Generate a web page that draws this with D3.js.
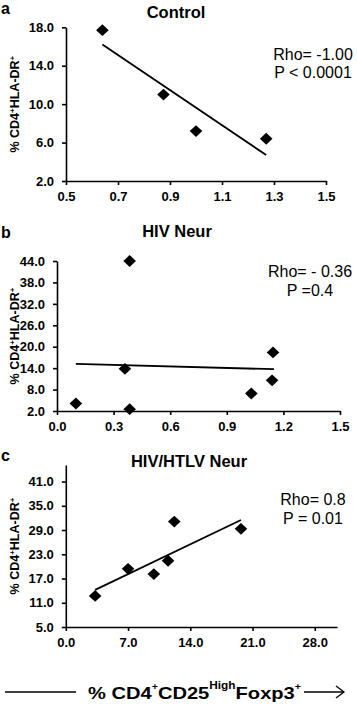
<!DOCTYPE html>
<html>
<head>
<meta charset="utf-8">
<script src="https://cdn.jsdelivr.net/npm/d3@7"></script>
<style>
  html, body { margin: 0; padding: 0; background: #fff; }
  svg { display: block; font-family: "Liberation Sans", Arial, sans-serif; }
</style>
</head>
<body>
<svg id="chart" width="357" height="706"></svg>
<script>
// ---- Data ----
const panelLetters = ["a", "b", "c"];
const panelTitles = ["Control", "HIV Neur", "HIV/HTLV Neur"];
const rhoLabels = ["Rho= -1.00", "Rho= - 0.36", "Rho= 0.8"];
const pLabels = ["P < 0.0001", "P =0.4", "P = 0.01"];

// Panel a: Control
const aX = [0.64, 0.875, 1.0, 1.27];
const aY = [17.7, 11.0, 7.2, 6.4];
const aFitX = [0.64, 1.27];
const aFitY = [16.2, 4.7];
const aXTicks = [0.5, 0.7, 0.9, 1.1, 1.3, 1.5];
const aYTicks = [2.0, 6.0, 10.0, 14.0, 18.0];

// Panel b: HIV Neur
const bX = [0.1, 0.36, 0.385, 0.385, 1.03, 1.14, 1.145];
const bY = [4.1, 13.8, 44.0, 2.5, 6.9, 10.6, 18.4];
const bFitX = [0.1, 1.15];
const bFitY = [15.2, 13.7];
const bXTicks = [0.0, 0.3, 0.6, 0.9, 1.2, 1.5];
const bYTicks = [2.0, 8.0, 14.0, 20.0, 26.0, 32.0, 38.0, 44.0];

// Panel c: HIV/HTLV Neur
const cX = [3.3, 7.0, 9.9, 11.5, 12.2, 19.7];
const cY = [12.7, 19.4, 18.1, 21.4, 31.1, 29.3];
const cFitX = [3.3, 19.7];
const cFitY = [14.2, 31.5];
const cXTicks = [0.0, 7.0, 14.0, 21.0, 28.0];
const cYTicks = [5.0, 11.0, 17.0, 23.0, 29.0, 35.0, 41.0];

// ---- Layout ----
const panels = [
  { xs: aX, ys: aY, fx: aFitX, fy: aFitY, xt: aXTicks, yt: aYTicks,
    xDom: [0.5, 1.5], yDom: [2, 18], xR: [66, 326], yR: [181, 27.3],
    letterY: 14, titleX: 176, titleY: 18, statY: [60, 78], statX: 313 },
  { xs: bX, ys: bY, fx: bFitX, fy: bFitY, xt: bXTicks, yt: bYTicks,
    xDom: [0, 1.5], yDom: [2, 44], xR: [57, 340], yR: [411, 261],
    letterY: 238, titleX: 177, titleY: 237, statY: [277, 296], statX: 310 },
  { xs: cX, ys: cY, fx: cFitX, fy: cFitY, xt: cXTicks, yt: cYTicks,
    xDom: [0, 30.5], yDom: [5, 45.1], xR: [65.8, 337], yR: [627, 465],
    letterY: 461, titleX: 189, titleY: 467, statY: [505, 524], statX: 313 }
];

const svg = d3.select("#chart");

panels.forEach((p, i) => {
  const g = svg.append("g");
  const x = d3.scaleLinear().domain(p.xDom).range(p.xR);
  const y = d3.scaleLinear().domain(p.yDom).range(p.yR);

  const yAxis = d3.axisLeft(y).tickValues(p.yt).tickFormat(d3.format(".1f"))
    .tickSize(4).tickSizeOuter(0).tickPadding(8);
  const ga = g.append("g").attr("transform", `translate(${p.xR[0]},0)`).call(yAxis);
  const xAxis = d3.axisBottom(x).tickValues(p.xt).tickFormat(d3.format(".1f"))
    .tickSize(4).tickSizeOuter(0).tickPadding(7);
  const gb = g.append("g").attr("transform", `translate(0,${p.yR[0]})`).call(xAxis);
  [ga, gb].forEach(a => {
    a.selectAll("path.domain").attr("stroke", "#000").attr("stroke-width", 1.6);
    a.selectAll(".tick line").attr("stroke", "#000").attr("stroke-width", 1.6);
    a.selectAll(".tick text").attr("fill", "#000")
      .style("font-size", "13px").style("font-weight", "bold");
  });

  g.append("line")
    .attr("x1", x(p.fx[0])).attr("y1", y(p.fy[0]))
    .attr("x2", x(p.fx[1])).attr("y2", y(p.fy[1]))
    .attr("stroke", "#000").attr("stroke-width", 1.8);

  const pts = p.xs.map((v, k) => [v, p.ys[k]]);
  const hw = 6.3, hh = 5.9;
  g.selectAll("path.pt").data(pts).enter().append("path")
    .attr("class", "pt")
    .attr("d", d => {
      const cx = x(d[0]), cy = y(d[1]);
      return `M${cx},${cy - hh}L${cx + hw},${cy}L${cx},${cy + hh}L${cx - hw},${cy}Z`;
    })
    .attr("fill", "#000");

  g.append("text").attr("x", 1).attr("y", p.letterY)
    .style("font-size", "16px").style("font-weight", "bold").text(panelLetters[i]);
  g.append("text").attr("x", p.titleX).attr("y", p.titleY)
    .attr("text-anchor", "middle")
    .style("font-size", "16.5px").style("font-weight", "bold").text(panelTitles[i]);
  g.append("text").attr("x", p.statX).attr("y", p.statY[0]).attr("text-anchor", "middle")
    .style("font-size", "16px").text(rhoLabels[i]);
  g.append("text").attr("x", p.statX).attr("y", p.statY[1]).attr("text-anchor", "middle")
    .style("font-size", "16px").text(pLabels[i]);

  const cy = (p.yR[0] + p.yR[1]) / 2;
  const yl = g.append("text")
    .attr("transform", `translate(19,${cy}) rotate(-90)`)
    .attr("text-anchor", "middle")
    .style("font-size", "12.5px").style("font-weight", "bold");
  yl.append("tspan").text("% CD4");
  yl.append("tspan").attr("dy", -4).style("font-size", "8px").text("+");
  yl.append("tspan").attr("dy", 4).text("HLA-DR");
  yl.append("tspan").attr("dy", -4).style("font-size", "8px").text("+");
});

// bottom common x label with arrow
const by = 692;
svg.append("line").attr("x1", 5).attr("x2", 76).attr("y1", by).attr("y2", by)
  .attr("stroke", "#000").attr("stroke-width", 1.3);
svg.append("line").attr("x1", 304).attr("x2", 344).attr("y1", by).attr("y2", by)
  .attr("stroke", "#000").attr("stroke-width", 1.3);
svg.append("path").attr("d", `M336,${by - 6}L344,${by}L336,${by + 6}`)
  .attr("fill", "none").attr("stroke", "#000").attr("stroke-width", 1.3);
const bl = svg.append("text").attr("x", 88).attr("y", 699)
  .attr("textLength", 213).attr("lengthAdjust", "spacingAndGlyphs")
  .style("font-size", "17px").style("font-weight", "bold");
bl.append("tspan").text("% CD4");
bl.append("tspan").attr("dy", -9).style("font-size", "9px").text("+");
bl.append("tspan").attr("dy", 9).text("CD25");
bl.append("tspan").attr("dy", -10).style("font-size", "10px").text("High");
bl.append("tspan").attr("dy", 10).text("Foxp3");
bl.append("tspan").attr("dy", -9).style("font-size", "9px").text("+");
</script>
</body>
</html>
